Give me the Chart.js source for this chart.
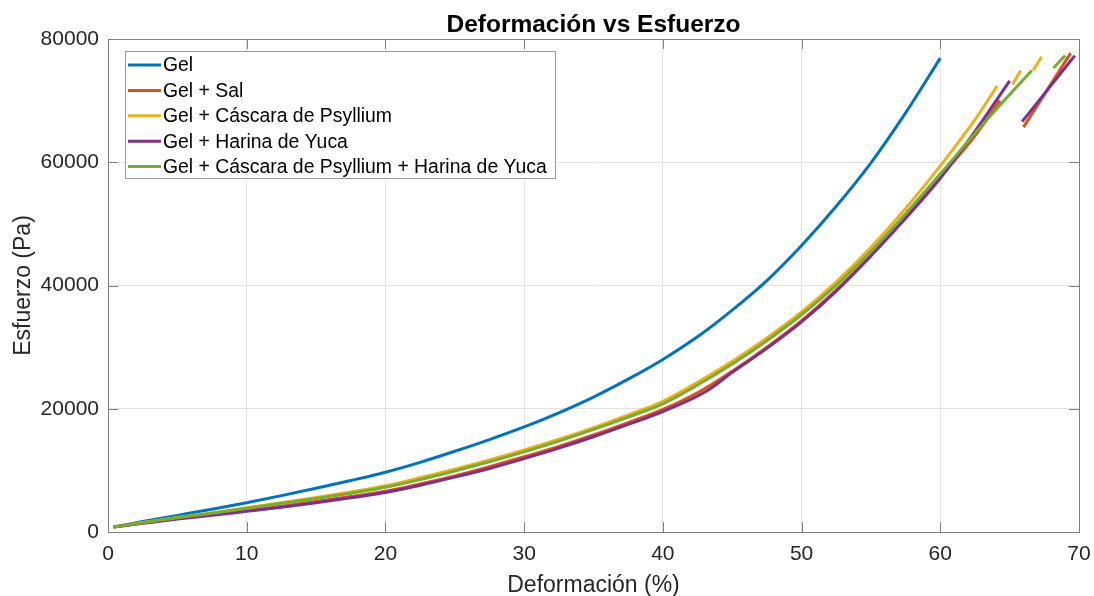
<!DOCTYPE html>
<html>
<head>
<meta charset="utf-8">
<script src="https://cdn.jsdelivr.net/npm/chart.js@4.4.0/dist/chart.umd.min.js"></script>
<style>
  html, body { margin: 0; padding: 0; background: #ffffff; }
  #wrap { width: 1094px; height: 596px; }
</style>
</head>
<body>
<div id="wrap"><canvas id="c" width="1094" height="596"></canvas></div>
<script>
// ---- Data (null marks a break in the line) ----
const chartTitle = 'Deformación vs Esfuerzo';
const xTitle = 'Deformación (%)';
const yTitle = 'Esfuerzo (Pa)';
const seriesLabels = ['Gel', 'Gel + Sal', 'Gel + Cáscara de Psyllium', 'Gel + Harina de Yuca', 'Gel + Cáscara de Psyllium + Harina de Yuca'];
const seriesColors = ['#0072BD', '#D95319', '#EDB120', '#7E2F8E', '#77AC30'];

const gelX = [0.4, 2.5, 5, 7.5, 10, 12.5, 15, 17.5, 20, 22.5, 25, 27.5, 30, 32.5, 35, 37.5, 40, 42.7, 45, 47.5, 50, 52.5, 55, 57.5, 60];
const gelY = [800, 1700, 2700, 3700, 4750, 5900, 7100, 8350, 9700, 11300, 13100, 15000, 17050, 19350, 21900, 24800, 28000, 32000, 36000, 40800, 46500, 52850, 59900, 68000, 76900];

const salX = [0.4, 2.5, 5, 7.5, 10, 12.5, 15, 17.5, 20, 22.5, 25, 27.5, 30, 32.5, 35, 37.5, 40, 42.5, 45, 47.5, 50, 52.5, 55, 57.5, 60, 62.5, 64.3, null, 66.0, 69.4];
const salY = [800, 1450, 2200, 2850, 3500, 4200, 4950, 5750, 6600, 7800, 9100, 10600, 12200, 13900, 15750, 17750, 19900, 22600, 26100, 30000, 34300, 39300, 44900, 51000, 57600, 64300, 70000, null, 65700, 77700];

const psylliumX = [0.4, 2.5, 5, 7.5, 10, 12.5, 15, 17.5, 20, 22.5, 25, 27.5, 30, 32.5, 35, 37.5, 40, 42.5, 45, 47.5, 50, 52.5, 55, 57.5, 60, 62.5, 64.1, null, 65.2, 65.8, null, 66.7, 67.3];
const psylliumY = [800, 1550, 2350, 3100, 3950, 4750, 5600, 6500, 7500, 8800, 10200, 11700, 13300, 15050, 16950, 19000, 21200, 24300, 27700, 31500, 35700, 40600, 46200, 52500, 59400, 66900, 72400, null, 72600, 74900, null, 74900, 77100];

const yucaX = [0.4, 2.5, 5, 7.5, 10, 12.5, 15, 17.5, 20, 22.5, 25, 27.5, 30, 32.5, 35, 37.5, 40, 43.1, 45, 47.5, 50, 52.5, 55, 57.5, 60, 62.5, 65.0, null, 65.9, 69.7];
const yucaY = [800, 1400, 2100, 2700, 3350, 4000, 4750, 5550, 6400, 7600, 8900, 10300, 11900, 13600, 15450, 17450, 19550, 22800, 25900, 29800, 34100, 39100, 44800, 50900, 57400, 65000, 73200, null, 66600, 77300];

const mixX = [0.4, 2.5, 5, 7.5, 10, 12.5, 15, 17.5, 20, 22.5, 25, 27.5, 30, 32.5, 35, 37.5, 40, 42.5, 45, 47.5, 50, 52.5, 55, 57.5, 60, 62.5, 65, 66.6, null, 68.15, 69.0];
const mixY = [800, 1500, 2300, 3050, 3850, 4650, 5450, 6300, 7250, 8500, 9900, 11400, 13000, 14750, 16650, 18650, 20800, 23850, 27250, 31050, 35250, 40050, 45550, 51650, 58100, 64700, 71000, 74900, null, 75300, 77300];

const xTicks = [0, 10, 20, 30, 40, 50, 60, 70];
const yTicks = [0, 20000, 40000, 60000, 80000];

// ---- Build datasets ----
function ptsGap(xs, ys) {
  const out = [];
  for (let i = 0; i < xs.length; i++) {
    if (xs[i] === null) {
      out.push({ x: xs[i - 1] + 0.01, y: null });
    } else {
      out.push({ x: xs[i], y: ys[i] });
    }
  }
  return out;
}
const allX = [gelX, salX, psylliumX, yucaX, mixX];
const allY = [gelY, salY, psylliumY, yucaY, mixY];
const orders = [5, 4, 3, 2, 1];
const datasets = seriesLabels.map((lab, i) => ({
  label: lab,
  data: ptsGap(allX[i], allY[i]),
  borderColor: seriesColors[i],
  backgroundColor: seriesColors[i],
  borderWidth: 3,
  pointRadius: 0,
  pointHoverRadius: 0,
  fill: false,
  spanGaps: false,
  cubicInterpolationMode: 'monotone',
  order: orders[i]
}));

const FONT = '"Liberation Sans", Arial, sans-serif';
const AXIS_COLOR = '#808080';
const TICK_LEN = 10;

const boxPlugin = {
  id: 'matlabBox',
  afterDatasetsDraw(chart) {
    const { ctx, chartArea: a, scales } = chart;
    ctx.save();
    ctx.strokeStyle = AXIS_COLOR;
    ctx.lineWidth = 1;
    ctx.beginPath();
    xTicks.forEach(v => {
      const px = Math.round(scales.x.getPixelForValue(v)) + 0.5;
      ctx.moveTo(px, a.bottom); ctx.lineTo(px, a.bottom - TICK_LEN);
      ctx.moveTo(px, a.top); ctx.lineTo(px, a.top + TICK_LEN);
    });
    yTicks.forEach(v => {
      const py = Math.round(scales.y.getPixelForValue(v)) + 0.5;
      ctx.moveTo(a.left, py); ctx.lineTo(a.left + TICK_LEN, py);
      ctx.moveTo(a.right, py); ctx.lineTo(a.right - TICK_LEN, py);
    });
    ctx.stroke();
    ctx.strokeRect(Math.round(a.left) + 0.5, Math.round(a.top) + 0.5, Math.round(a.right - a.left), Math.round(a.bottom - a.top));
    ctx.restore();
  }
};

const titlePlugin = {
  id: 'centeredTitle',
  afterDraw(chart) {
    const { ctx, chartArea: a } = chart;
    ctx.save();
    ctx.font = 'bold 24.5px ' + FONT;
    ctx.fillStyle = '#000000';
    ctx.textAlign = 'center';
    ctx.textBaseline = 'alphabetic';
    ctx.fillText(chartTitle, (a.left + a.right) / 2, 31.5);
    ctx.restore();
  }
};

const legendPlugin = {
  id: 'boxLegend',
  afterDraw(chart) {
    const { ctx, chartArea: a } = chart;
    const x0 = Math.round(a.left) + 17, y0 = Math.round(a.top) + 12;
    const w = 430, rowH = 25.4, h = 127;
    ctx.save();
    ctx.fillStyle = '#ffffff';
    ctx.fillRect(x0, y0, w, h);
    ctx.strokeStyle = '#9a9a9a';
    ctx.lineWidth = 1;
    ctx.strokeRect(x0 + 0.5, y0 + 0.5, w, h);
    ctx.font = '19.4px ' + FONT;
    ctx.textBaseline = 'middle';
    ctx.textAlign = 'left';
    chart.data.datasets.forEach((ds, i) => {
      const cy = y0 + 14 + i * rowH;
      ctx.strokeStyle = ds.borderColor;
      ctx.lineWidth = 3;
      ctx.beginPath();
      ctx.moveTo(x0 + 3, cy); ctx.lineTo(x0 + 36, cy);
      ctx.stroke();
      ctx.fillStyle = '#000000';
      ctx.fillText(ds.label, x0 + 38, cy + 1);
    });
    ctx.restore();
  }
};

new Chart(document.getElementById('c'), {
  type: 'line',
  data: { datasets },
  plugins: [boxPlugin, titlePlugin, legendPlugin],
  options: {
    responsive: false,
    animation: false,
    devicePixelRatio: 1,
    layout: { padding: { left: 0, right: 15, top: 39, bottom: 0 } },
    plugins: {
      legend: { display: false },
      tooltip: { enabled: false },
      title: { display: false }
    },
    scales: {
      x: {
        type: 'linear',
        min: 0, max: 70,
        afterFit(s) { s.height = 64; s.paddingLeft = 0; s.paddingRight = 0; },
        afterBuildTicks(s) { s.ticks = xTicks.map(v => ({ value: v })); },
        ticks: {
          color: '#262626',
          padding: 10,
          maxRotation: 0,
          font: { family: FONT, size: 21 },
          callback: v => String(v)
        },
        grid: { color: '#e3e3e3', drawTicks: false, lineWidth: 1 },
        border: { display: false },
        title: {
          display: true,
          text: xTitle,
          color: '#262626',
          font: { family: FONT, size: 23, lineHeight: 0.9 },
          padding: { top: 0, bottom: 0 }
        }
      },
      y: {
        type: 'linear',
        min: 0, max: 80000,
        afterFit(s) { s.width = 108; s.paddingTop = 0; s.paddingBottom = 0; },
        afterBuildTicks(s) { s.ticks = yTicks.map(v => ({ value: v })); },
        ticks: {
          color: '#262626',
          padding: 9,
          font: { family: FONT, size: 21 },
          callback: v => String(v)
        },
        grid: { color: '#e3e3e3', drawTicks: false, lineWidth: 1 },
        border: { display: false },
        title: {
          display: true,
          text: yTitle,
          color: '#262626',
          font: { family: FONT, size: 23, lineHeight: 1.2 },
          padding: { top: 9.9, bottom: 0 }
        }
      }
    }
  }
});
</script>
</body>
</html>
